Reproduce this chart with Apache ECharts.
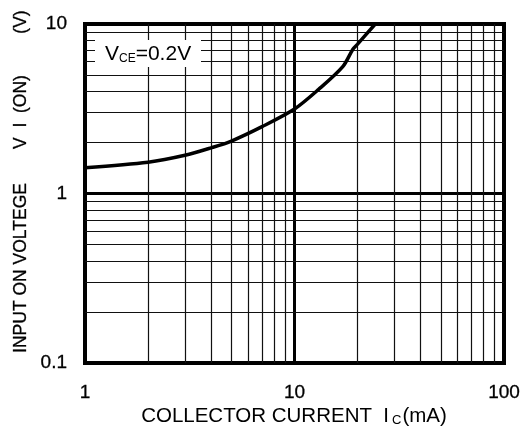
<!DOCTYPE html>
<html>
<head>
<meta charset="utf-8">
<script src="https://cdn.jsdelivr.net/npm/echarts@6/dist/echarts.min.js"></script>
<style>html,body{margin:0;padding:0;background:#fff}#c{width:524px;height:428px}</style>
</head>
<body>
<div id="c"></div>
<script>
// Data
var currentMA = [1, 2, 3, 4, 5, 7, 10, 13, 17, 19, 20, 24.3];
var inputOnV  = [1.42, 1.53, 1.68, 1.86, 2.04, 2.48, 3.15, 4.1, 5.6, 7.1, 7.6, 10];
var xMinorGrid = [2,3,4,5,6,7,8,9,20,30,40,50,60,70,80,90];
var yMinorGrid = [0.2,0.3,0.4,0.5,0.6,0.7,0.8,0.9,2,3,4,5,6,7,8,9];
var xAxisTitle = 'COLLECTOR CURRENT  I';
var yTitleParts = ['INPUT ON VOLTEGE', 'V  I  (ON)', '(V)'];
var conditionLabel = '=0.2V';

var chart = echarts.init(document.getElementById('c'), null, {renderer: 'canvas'});
var font = '"Liberation Sans", Arial, sans-serif';
var minorLines = xMinorGrid.map(function (v) { return {xAxis: v}; })
  .concat(yMinorGrid.map(function (v) { return {yAxis: v}; }));

function yText(str, cy) {
  return {type: 'text', z: 101, x: 21, y: cy, rotation: Math.PI / 2, style: {
    text: str, align: 'center', verticalAlign: 'middle',
    fontSize: 17.5, fontFamily: font, fill: '#000', stroke: '#000', lineWidth: 0.3
  }};
}

chart.setOption({
  animation: false,
  backgroundColor: '#fff',
  grid: {left: 85, top: 24, width: 419, height: 339, show: true, borderColor: '#000', borderWidth: 4, backgroundColor: 'transparent'},
  xAxis: {
    type: 'log', logBase: 10, min: 1, max: 100,
    axisLine: {show: false}, axisTick: {show: false},
    axisLabel: {color: '#000', fontSize: 19, fontFamily: font, margin: 20, textBorderColor: '#000', textBorderWidth: 0.3},
    splitLine: {show: true, lineStyle: {color: '#000', width: 3}}
  },
  yAxis: {
    type: 'log', logBase: 10, min: 0.1, max: 10,
    axisLine: {show: false}, axisTick: {show: false},
    axisLabel: {color: '#000', fontSize: 19, fontFamily: font, margin: 18, textBorderColor: '#000', textBorderWidth: 0.3,
      formatter: function (v) { return v < 1 ? v.toFixed(1) : String(Math.round(v)); }},
    splitLine: {show: true, lineStyle: {color: '#000', width: 3}}
  },
  series: [{
    type: 'line',
    data: currentMA.map(function (x, i) { return [x, inputOnV[i]]; }),
    smooth: 0.3,
    symbol: 'none',
    lineStyle: {color: '#000', width: 3.5},
    z: 5,
    markLine: {
      silent: true, symbol: 'none', label: {show: false},
      lineStyle: {color: '#111', width: 1.2, type: 'solid'},
      data: minorLines, z: 1
    }
  }],
  graphic: [
    {type: 'rect', z: 100, shape: {x: 95, y: 40, width: 106, height: 27}, style: {fill: '#fff'}},
    {type: 'text', z: 101, x: 105, y: 54, style: {
      text: '{v|V}{s|CE}{v|' + conditionLabel + '}', verticalAlign: 'middle',
      rich: {v: {fontSize: 21, fontFamily: font, fill: '#000'}, s: {fontSize: 12, fontFamily: font, fill: '#000', padding: [10, 0, 0, 0]}}
    }},
    {type: 'text', z: 101, x: 294, y: 416, style: {
      text: '{v|' + xAxisTitle + '}{s|C}{v|(mA)}', align: 'center', verticalAlign: 'middle',
      rich: {v: {fontSize: 20.5, fontFamily: font, fill: '#000'}, s: {fontSize: 13, fontFamily: font, fill: '#000', padding: [9, 1, 0, 3]}}
    }},
    yText(yTitleParts[0], 268),
    yText(yTitleParts[1], 112),
    yText(yTitleParts[2], 22)
  ]
});
</script>
</body>
</html>
